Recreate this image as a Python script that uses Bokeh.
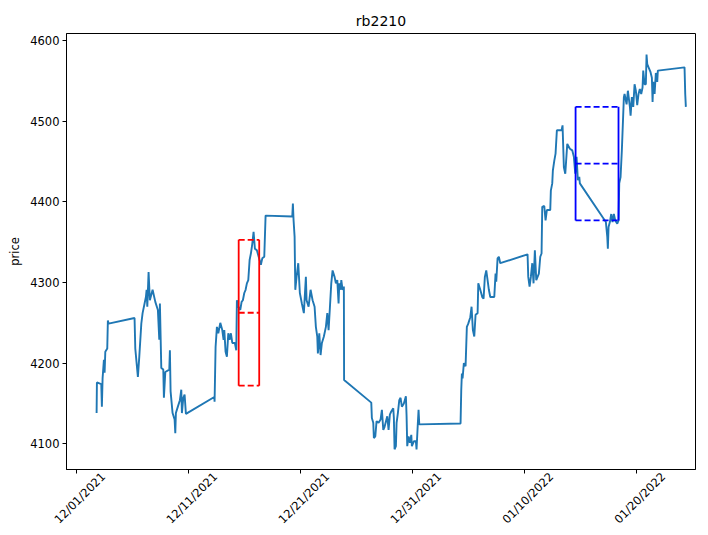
import math
import pandas as pd
from bokeh.plotting import figure
from bokeh.models import (Range1d, FixedTicker, DatetimeTickFormatter, ColumnDataSource,
                          DatetimeAxis)
from bokeh.embed import file_html
from bokeh.resources import INLINE

title_text = "rb2210"

times = [
    "2021-12-02 19:30", "2021-12-02 20:10", "2021-12-03 05:30", "2021-12-03 06:50", "2021-12-03 08:20",
    "2021-12-03 11:10", "2021-12-03 12:40", "2021-12-03 14:10", "2021-12-03 18:20", "2021-12-03 19:40",
    "2021-12-03 21:10", "2021-12-06 04:50", "2021-12-06 06:25", "2021-12-06 12:00", "2021-12-06 15:00",
    "2021-12-06 19:20", "2021-12-06 22:05", "2021-12-07 05:10", "2021-12-07 06:40", "2021-12-07 08:10",
    "2021-12-07 10:55", "2021-12-07 13:40", "2021-12-07 19:30", "2021-12-08 01:20", "2021-12-08 06:50",
    "2021-12-08 09:50", "2021-12-08 11:10", "2021-12-08 14:10", "2021-12-08 18:25", "2021-12-08 19:45",
    "2021-12-08 22:45", "2021-12-09 07:20", "2021-12-09 08:35", "2021-12-09 10:05", "2021-12-09 14:20",
    "2021-12-09 18:40", "2021-12-09 20:10", "2021-12-09 21:25", "2021-12-10 01:40", "2021-12-10 06:00",
    "2021-12-10 09:00", "2021-12-10 10:20", "2021-12-10 13:20", "2021-12-10 16:05", "2021-12-10 18:55",
    "2021-12-13 07:45", "2021-12-13 08:20", "2021-12-13 10:30", "2021-12-13 13:20", "2021-12-13 16:20",
    "2021-12-13 20:35", "2021-12-14 00:50", "2021-12-14 03:40", "2021-12-14 05:10", "2021-12-14 07:55",
    "2021-12-14 10:45", "2021-12-14 13:45", "2021-12-14 16:30", "2021-12-14 19:20", "2021-12-14 22:20",
    "2021-12-15 03:50", "2021-12-15 06:50", "2021-12-15 08:10", "2021-12-15 11:10", "2021-12-15 15:25",
    "2021-12-15 18:15", "2021-12-15 21:00", "2021-12-16 00:00", "2021-12-16 02:50", "2021-12-16 05:35",
    "2021-12-16 08:35", "2021-12-16 11:25", "2021-12-16 14:10", "2021-12-16 17:10", "2021-12-16 19:55",
    "2021-12-16 22:45", "2021-12-17 03:00", "2021-12-17 11:35", "2021-12-17 14:35", "2021-12-17 18:50",
    "2021-12-17 21:40", "2021-12-20 06:50", "2021-12-20 08:10", "2021-12-20 09:40", "2021-12-20 11:50",
    "2021-12-20 13:20", "2021-12-20 16:05", "2021-12-20 19:40", "2021-12-20 23:05", "2021-12-21 03:25",
    "2021-12-21 07:40", "2021-12-21 12:00", "2021-12-21 13:30", "2021-12-21 17:50", "2021-12-21 22:05",
    "2021-12-22 02:25", "2021-12-22 06:40", "2021-12-22 09:25", "2021-12-22 12:25", "2021-12-22 13:45",
    "2021-12-22 16:45", "2021-12-22 19:30", "2021-12-22 22:20", "2021-12-23 02:35", "2021-12-23 06:55",
    "2021-12-23 09:55", "2021-12-23 12:40", "2021-12-23 15:25", "2021-12-23 18:25", "2021-12-23 21:15",
    "2021-12-24 01:30", "2021-12-24 04:20", "2021-12-24 07:20", "2021-12-24 10:05", "2021-12-24 11:35",
    "2021-12-24 14:25", "2021-12-24 15:55", "2021-12-24 18:40", "2021-12-24 21:25", "2021-12-24 21:55",
    "2021-12-27 08:10", "2021-12-27 09:25", "2021-12-27 12:25", "2021-12-27 13:45", "2021-12-27 16:45",
    "2021-12-27 19:30", "2021-12-27 23:50", "2021-12-28 04:05", "2021-12-28 06:55", "2021-12-28 09:55",
    "2021-12-28 12:40", "2021-12-28 18:25", "2021-12-28 21:15", "2021-12-29 00:00", "2021-12-29 03:00",
    "2021-12-29 07:15", "2021-12-29 08:35", "2021-12-29 10:05", "2021-12-29 12:55", "2021-12-29 14:25",
    "2021-12-29 17:10", "2021-12-29 20:10", "2021-12-29 22:55", "2021-12-30 01:45", "2021-12-30 06:00",
    "2021-12-30 10:20", "2021-12-30 11:50", "2021-12-30 13:15", "2021-12-30 16:05", "2021-12-30 18:55",
    "2021-12-30 21:55", "2021-12-30 23:10", "2021-12-31 03:25", "2021-12-31 07:45", "2021-12-31 09:10",
    "2021-12-31 12:00", "2021-12-31 13:30", "2021-12-31 15:00", "2022-01-04 07:30", "2022-01-04 09:00",
    "2022-01-04 10:20", "2022-01-04 11:50", "2022-01-04 14:35", "2022-01-04 18:15", "2022-01-04 21:00",
    "2022-01-05 00:00", "2022-01-05 04:20", "2022-01-05 07:05", "2022-01-05 09:55", "2022-01-05 12:55",
    "2022-01-05 15:40", "2022-01-05 20:00", "2022-01-05 21:30", "2022-01-06 01:45", "2022-01-06 06:00",
    "2022-01-06 08:50", "2022-01-06 11:35", "2022-01-06 14:35", "2022-01-06 17:25", "2022-01-06 20:10",
    "2022-01-06 23:10", "2022-01-07 07:45", "2022-01-07 10:30", "2022-01-07 12:00", "2022-01-07 14:50",
    "2022-01-07 17:35", "2022-01-07 20:35", "2022-01-10 07:05", "2022-01-10 08:35", "2022-01-10 11:25",
    "2022-01-10 14:10", "2022-01-10 17:10", "2022-01-10 19:55", "2022-01-10 22:45", "2022-01-11 01:45",
    "2022-01-11 07:20", "2022-01-11 10:20", "2022-01-11 13:05", "2022-01-11 14:35", "2022-01-11 18:55",
    "2022-01-11 21:40", "2022-01-12 00:30", "2022-01-12 07:45", "2022-01-12 09:00", "2022-01-12 12:00",
    "2022-01-12 13:20", "2022-01-12 16:20", "2022-01-12 19:05", "2022-01-12 21:55", "2022-01-13 08:00",
    "2022-01-13 10:05", "2022-01-13 12:55", "2022-01-13 15:55", "2022-01-13 20:10", "2022-01-14 01:45",
    "2022-01-14 06:50", "2022-01-14 10:20", "2022-01-14 13:20", "2022-01-14 16:05", "2022-01-14 18:55",
    "2022-01-14 21:55", "2022-01-14 23:10", "2022-01-17 06:55", "2022-01-17 09:55", "2022-01-17 11:10",
    "2022-01-17 12:40", "2022-01-17 15:30", "2022-01-17 18:25", "2022-01-17 21:10", "2022-01-18 00:00",
    "2022-01-18 03:00", "2022-01-18 07:20", "2022-01-18 10:05", "2022-01-18 11:35", "2022-01-18 14:25",
    "2022-01-18 17:10", "2022-01-18 21:30", "2022-01-18 23:00", "2022-01-19 03:20", "2022-01-19 06:05",
    "2022-01-19 10:25", "2022-01-19 11:55", "2022-01-19 14:35", "2022-01-19 17:35", "2022-01-19 20:25",
    "2022-01-19 23:10", "2022-01-20 02:05", "2022-01-20 04:55", "2022-01-20 07:40", "2022-01-20 10:40",
    "2022-01-20 13:30", "2022-01-20 15:00", "2022-01-20 17:50", "2022-01-20 20:35", "2022-01-20 22:05",
    "2022-01-20 23:35", "2022-01-21 02:25", "2022-01-21 06:40", "2022-01-21 09:30", "2022-01-21 11:00",
    "2022-01-21 12:30", "2022-01-21 15:20", "2022-01-21 18:00", "2022-01-21 21:00", "2022-01-21 22:20",
    "2022-01-24 07:30", "2022-01-24 09:00", "2022-01-24 10:20",
]

prices = [
    4138, 4176, 4174, 4146, 4181,
    4204, 4188, 4214, 4218, 4253,
    4249, 4256, 4218, 4183, 4208,
    4249, 4262, 4282, 4291, 4270,
    4313, 4278, 4291, 4276, 4266,
    4229, 4274, 4194, 4192, 4157,
    4189, 4192, 4216, 4165, 4138,
    4130, 4113, 4138, 4146, 4154,
    4167, 4138, 4157, 4161, 4137,
    4158, 4152, 4220, 4245, 4237,
    4250, 4241, 4229, 4241, 4214,
    4208, 4237, 4229, 4237, 4225,
    4225, 4216, 4278, 4270, 4266,
    4276, 4278, 4287, 4291, 4299,
    4303, 4328, 4336, 4348, 4363,
    4342, 4340, 4322, 4330, 4332,
    4383, 4382, 4398, 4377, 4357,
    4291, 4307, 4324, 4287, 4274,
    4262, 4307, 4278, 4270, 4291,
    4278, 4270, 4245, 4233, 4212,
    4237, 4210, 4225, 4233, 4245,
    4262, 4241, 4268, 4299, 4315,
    4307, 4299, 4303, 4274, 4299,
    4291, 4303, 4291, 4295, 4179,
    4151, 4132, 4126, 4107, 4109,
    4128, 4126, 4130, 4142, 4117,
    4121, 4134, 4117, 4136, 4140,
    4144, 4132, 4093, 4097, 4126,
    4138, 4154, 4157, 4146, 4150,
    4159, 4134, 4097, 4109, 4101,
    4111, 4097, 4103, 4103, 4093,
    4126, 4142, 4124, 4125, 4167,
    4187, 4181, 4200, 4196, 4245,
    4249, 4257, 4270, 4241, 4233,
    4260, 4262, 4299, 4291, 4282,
    4280, 4307, 4315, 4303, 4291,
    4282, 4282, 4311, 4301, 4330,
    4332, 4324, 4335, 4307, 4295,
    4307, 4324, 4299, 4340, 4303,
    4311, 4332, 4336, 4394, 4395,
    4377, 4390, 4390, 4414, 4423,
    4439, 4451, 4460, 4489, 4489,
    4495, 4443, 4435, 4472, 4466,
    4464, 4456, 4435, 4456, 4427,
    4431, 4423, 4375, 4357, 4342,
    4369, 4375, 4385, 4375, 4385,
    4377, 4373, 4377, 4423, 4431,
    4464, 4530, 4534, 4521, 4538,
    4518, 4507, 4530, 4518, 4546,
    4538, 4520, 4534, 4540, 4534,
    4542, 4563, 4546, 4546, 4583,
    4571, 4567, 4561, 4554, 4524,
    4549, 4534, 4560, 4549, 4563,
    4567, 4534, 4518,
]

box_start = ["2021-12-15 12:00", "2022-01-14 14:00"]
box_end = ["2021-12-17 08:00", "2022-01-18 10:00"]
box_high = [4353, 4518]
box_low = [4172, 4377]
box_mid = [4262.5, 4447.5]
box_colors = ["#ff0000", "#0000ff"]

x_tick_dates = ["2021-12-01", "2021-12-11", "2021-12-21", "2021-12-31", "2022-01-10", "2022-01-20"]
y_tick_values = [4100, 4200, 4300, 4400, 4500, 4600]

FONT = "DejaVu Sans"
X_START = pd.Timestamp("2021-11-30 03:00")
X_END = pd.Timestamp("2022-01-25 07:00")
LABEL_SHIFT = pd.Timedelta(hours=58)   # centres the rotated tick labels under their ticks

t = pd.to_datetime(times)
p = figure(width=698, height=534, output_backend="svg", toolbar_location=None,
           x_axis_type="datetime",
           x_range=Range1d(X_START, X_END),
           y_range=Range1d(4068, 4609),
           min_border_left=66, min_border_right=3, min_border_top=33, min_border_bottom=10)
p.extra_x_ranges = {"labels": Range1d(X_START - LABEL_SHIFT, X_END - LABEL_SHIFT)}

p.title.text = title_text
p.title.align = "center"
p.title.text_font = FONT
p.title.text_font_size = "14px"
p.title.text_font_style = "normal"
p.title.text_color = "#000000"
p.title.offset = 10

p.line(x=t, y=prices, line_color="#1f77b4", line_width=1.9)

bsrc = ColumnDataSource(dict(
    x0=pd.to_datetime(box_start), x1=pd.to_datetime(box_end),
    hi=box_high, lo=box_low, mid=box_mid, c=box_colors))
p.segment(x0="x0", y0="lo", x1="x0", y1="hi", line_color="c", line_width=1.8, source=bsrc)
p.segment(x0="x1", y0="lo", x1="x1", y1="hi", line_color="c", line_width=1.8, source=bsrc)
for col in ["hi", "mid", "lo"]:
    p.segment(x0="x0", y0=col, x1="x1", y1=col, line_color="c", line_width=1.8,
              line_dash="6 3", source=bsrc)

xt = [int(pd.Timestamp(d).timestamp() * 1000) for d in x_tick_dates]
fmt = "%m/%d/%Y"
def make_fmt():
    return DatetimeTickFormatter(microseconds=fmt, milliseconds=fmt, seconds=fmt,
                                 minsec=fmt, minutes=fmt, hourmin=fmt, hours=fmt,
                                 days=fmt, months=fmt, years=fmt)

# tick marks (true positions), no visible labels
xa = p.xaxis[0]
xa.ticker = FixedTicker(ticks=xt)
xa.major_label_overrides = {v: "" for v in xt}
xa.major_label_text_font_size = "1px"
xa.major_label_standoff = 0
xa.axis_line_color = "#000000"
xa.major_tick_line_color = "#000000"
xa.major_tick_out = 4
xa.major_tick_in = 0
xa.minor_tick_line_color = None

# rotated labels, centred under the ticks
lab_axis = DatetimeAxis(x_range_name="labels", ticker=FixedTicker(ticks=xt), formatter=make_fmt(),
                        major_label_orientation=math.pi / 4,
                        major_label_text_font=FONT, major_label_text_font_size="11.5px",
                        major_label_text_color="#000000", major_label_standoff=1,
                        axis_line_color=None, major_tick_line_color=None,
                        minor_tick_line_color=None, major_tick_out=0, major_tick_in=0)
p.add_layout(lab_axis, "below")

ya = p.yaxis[0]
ya.ticker = FixedTicker(ticks=y_tick_values)
ya.axis_label = "price"
ya.major_label_text_font = FONT
ya.major_label_text_font_size = "11.5px"
ya.major_label_text_color = "#000000"
ya.axis_label_text_font = FONT
ya.axis_label_text_font_size = "11.5px"
ya.axis_label_text_font_style = "normal"
ya.axis_label_text_color = "#000000"
ya.axis_line_color = "#000000"
ya.major_tick_line_color = "#000000"
ya.major_tick_out = 4
ya.major_tick_in = 0
ya.minor_tick_line_color = None
ya.major_label_standoff = 3

p.xgrid.grid_line_color = None
p.ygrid.grid_line_color = None
p.outline_line_color = "#000000"
p.outline_line_alpha = 1.0
p.background_fill_color = "#ffffff"
p.border_fill_color = "#ffffff"

open("out.html", "w").write(file_html(p, INLINE))
